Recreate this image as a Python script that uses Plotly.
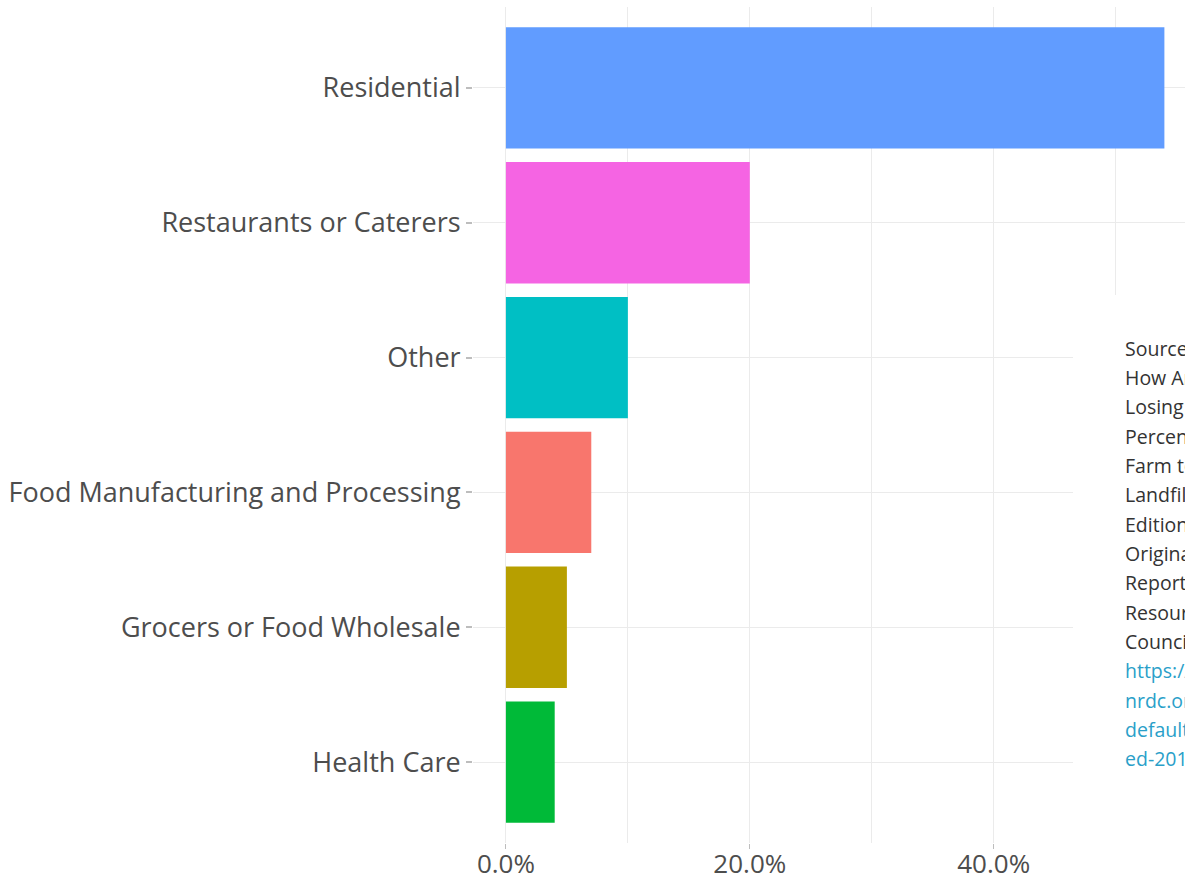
import plotly.graph_objects as go

categories = ["Health Care", "Grocers or Food Wholesale", "Food Manufacturing and Processing",
              "Other", "Restaurants or Caterers", "Residential"]
values = [4.0, 5.0, 7.0, 10.0, 20.0, 54.0]
colors = ["#00BA38", "#B79F00", "#F8766D", "#00BFC4", "#F564E3", "#619CFF"]
tick_vals = [0, 20, 40]
tick_text = ["0.0%", "20.0%", "40.0%"]
minor_vals = [10, 30, 50]

source_lines = ["Source: NRDC,", "How America Is", "Losing Up to 40", "Percent of Its Food",
                "Farm to Fork to", "Landfill, Second", "Edition of NRDC's", "Original 2012",
                "Report, Natural", "Resources Defense", "Council, 2017."]
link_lines = ["https://www.", "nrdc.org/sites/", "default/files/wast", "ed-2017-report.pdf"]

W, H = 1185, 877
L, R, T, B = 473, 0, 7, 34
pw, ph = W - L - R, H - T - B

def px_x(p):
    return (p - L) / pw

def px_y(p):
    return (H - B - p) / ph

fig = go.Figure()
fig.add_trace(go.Bar(
    y=categories, x=values, orientation="h",
    marker=dict(color=colors, line=dict(width=0)),
    width=0.9, showlegend=False, hoverinfo="skip"))

fig.update_layout(
    width=W, height=H,
    margin=dict(l=L, r=R, t=T, b=B, autoexpand=False),
    paper_bgcolor="white", plot_bgcolor="white",
    font=dict(family="Open Sans", color="#4D4D4D"),
    bargap=0.1,
)
fig.update_xaxes(
    range=[-2.7, 55.69], tickvals=tick_vals, ticktext=tick_text,
    showgrid=True, gridcolor="#EBEBEB", gridwidth=1.2,
    minor=dict(tickvals=minor_vals, showgrid=True, gridcolor="#EBEBEB", gridwidth=0.8, ticks=""),
    zeroline=False, showline=False,
    ticks="outside", ticklen=5, tickcolor="#BDBDBD", tickwidth=1,
    ticklabelstandoff=-7,
    tickfont=dict(size=26, color="#4D4D4D"), automargin=False,
)
fig.update_yaxes(
    range=[-0.6, 5.6], categoryorder="array", categoryarray=categories,
    showgrid=True, gridcolor="#EBEBEB", gridwidth=1.2,
    zeroline=False, showline=False,
    ticks="outside", ticklen=6, tickcolor="#BDBDBD", tickwidth=1.5,
    tickfont=dict(size=27, color="#4D4D4D"), automargin=False,
)

# white source box overlaid at the right
fig.add_shape(type="rect", xref="paper", yref="paper",
              x0=px_x(1073), x1=px_x(1200), y0=px_y(900), y1=px_y(295),
              fillcolor="white", line=dict(width=0), layer="above")

all_lines = [(t, "#333333") for t in source_lines] + [(t, "#2A9FC9") for t in link_lines]
for i, (txt, col) in enumerate(all_lines):
    fig.add_annotation(
        xref="paper", yref="paper", x=px_x(1123), y=px_y(348 + i * 29.35),
        xanchor="left", yanchor="middle", text=txt, showarrow=False,
        font=dict(family="Open Sans", size=19.5, color=col))

fig.write_html("out.html", config={"displayModeBar": False},
               post_script="document.body.style.margin='0';document.body.style.overflow='hidden';")
